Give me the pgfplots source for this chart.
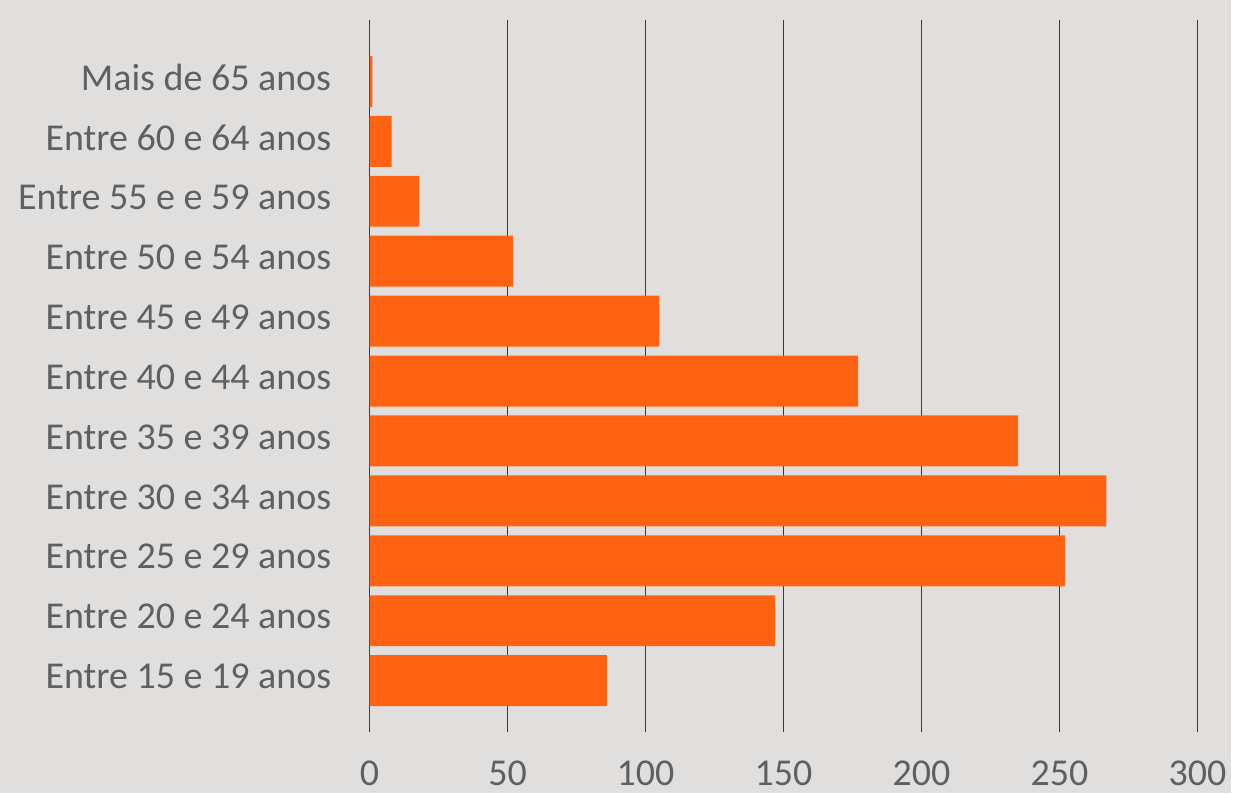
\documentclass[border=0pt]{standalone}
\usepackage{pgfplots}
\pgfplotsset{compat=1.18}
\usepackage{fontspec}
\setmainfont{Carlito}
\definecolor{bg}{RGB}{225,223,222}
\definecolor{barorange}{RGB}{255,99,17}
\definecolor{labelgray}{RGB}{96,96,96}
\definecolor{gridgray}{RGB}{60,60,60}
\begin{document}
\begin{tikzpicture}
% page background
\fill[bg] (0,0) rectangle (616.5pt,397pt);
\begin{axis}[
  at={(185pt,30.5pt)}, anchor=south west,
  width=414.5pt, height=356.5pt, scale only axis,
  xbar, bar width=0.85,
  xmin=0, xmax=300, ymin=-0.858, ymax=11.025,
  xtick={0,50,...,300},
  ytick={0,...,10},
  yticklabels={Entre 15 e 19 anos, Entre 20 e 24 anos, Entre 25 e 29 anos,
    Entre 30 e 34 anos, Entre 35 e 39 anos, Entre 40 e 44 anos,
    Entre 45 e 49 anos, Entre 50 e 54 anos, Entre 55 e e 59 anos,
    Entre 60 e 64 anos, Mais de 65 anos},
  xmajorgrids, ymajorgrids=false,
  major grid style={gridgray, line width=0.7pt},
  axis line style={draw=none},
  major tick length=0pt,
  tick label style={font=\fontsize{19}{22}\selectfont, text=labelgray},
  xticklabel style={yshift=-11pt},
  yticklabel style={xshift=-15.7pt, yshift=2pt},
  /pgf/number format/assume math mode=true,
]
\addplot[fill=barorange, draw=none] coordinates {
  (86,0) (147,1) (252,2) (267,3) (235,4) (177,5)
  (105,6) (52,7) (18,8) (8,9) (1,10)
};
\end{axis}
\end{tikzpicture}
\end{document}
